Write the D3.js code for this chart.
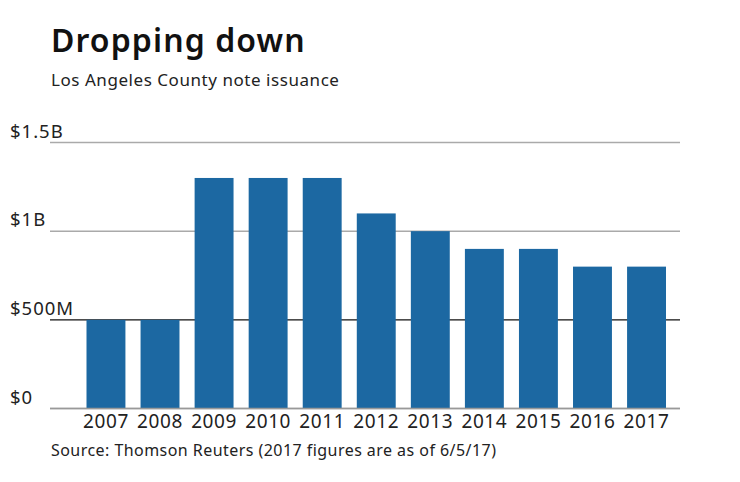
<!DOCTYPE html>
<html>
<head>
<meta charset="utf-8">
<script src="https://cdn.jsdelivr.net/npm/d3@7"></script>
<style>
  body { margin: 0; background: #fff; }
  text { font-family: "Noto Sans", Lato, sans-serif; fill: #222; }
</style>
</head>
<body>
<svg id="chart"></svg>
<script>
const years = ['2007', '2008', '2009', '2010', '2011', '2012', '2013', '2014', '2015', '2016', '2017'];
const issuance = [0.5, 0.5, 1.3, 1.3, 1.3, 1.1, 1.0, 0.9, 0.9, 0.8, 0.8];
const tickValues = [0, 0.5, 1, 1.5];
const tickLabels = ['$0', '$500M', '$1B', '$1.5B'];

const width = 740;
const height = 482;

const svg = d3.select('#chart')
    .attr('width', width)
    .attr('height', height);

svg.append('text')
    .attr('x', 51)
    .attr('y', 52)
    .style('font-size', '32px')
    .style('font-weight', '600')
    .style('letter-spacing', '1.1px')
    .style('fill', '#111')
    .text('Dropping down');

svg.append('text')
    .attr('x', 51)
    .attr('y', 86)
    .style('font-size', '17px')
    .style('letter-spacing', '0.55px')
    .text('Los Angeles County note issuance');

const xscale = d3.scaleBand()
    .domain(years)
    .range([86.5, 666])
    .paddingInner(0.28)
    .paddingOuter(0);

const yscale = d3.scaleLinear()
    .domain([0, 1.5])
    .range([408.5, 142.5]);

// gridlines
const grid = svg.append('g');
grid.selectAll('line')
    .data(tickValues)
    .join('line')
    .attr('x1', 50)
    .attr('x2', 680)
    .attr('y1', d => yscale(d))
    .attr('y2', d => yscale(d))
    .attr('stroke', d => d === 0.5 ? '#111' : '#aaa')
    .attr('stroke-width', d => d === 0.5 ? 1.2 : 1.5);

grid.selectAll('text')
    .data(tickValues)
    .join('text')
    .attr('x', 10)
    .attr('y', d => yscale(d) - 5)
    .style('font-size', '18.5px')
    .style('letter-spacing', '1px')
    .text((d, i) => tickLabels[i]);

svg.append('g')
    .selectAll('rect')
    .data(years)
    .join('rect')
    .attr('x', d => xscale(d))
    .attr('y', (d, i) => yscale(issuance[i]))
    .attr('width', xscale.bandwidth())
    .attr('height', (d, i) => yscale(0) - yscale(issuance[i]))
    .attr('fill', '#1c68a2');

// baseline drawn over bars
svg.append('line')
    .attr('x1', 50)
    .attr('x2', 680)
    .attr('y1', yscale(0))
    .attr('y2', yscale(0))
    .attr('stroke', '#999')
    .attr('stroke-width', 1.5);

const xaxis = d3.axisBottom(xscale).tickSize(0).tickPadding(6);
const xaxis_group = svg.append('g')
    .attr('transform', `translate(0, ${yscale(0)})`)
    .call(xaxis);
xaxis_group.select('.domain').remove();
xaxis_group.selectAll('text')
    .style('font-size', '19px')
    .style('letter-spacing', '0.6px')
    .style('font-family', '"Noto Sans", Lato, sans-serif')
    .attr('fill', '#222');

svg.append('text')
    .attr('x', 51)
    .attr('y', 456)
    .style('font-size', '16px')
    .style('letter-spacing', '0.45px')
    .text('Source: Thomson Reuters (2017 figures are as of 6/5/17)');
</script>
</body>
</html>
